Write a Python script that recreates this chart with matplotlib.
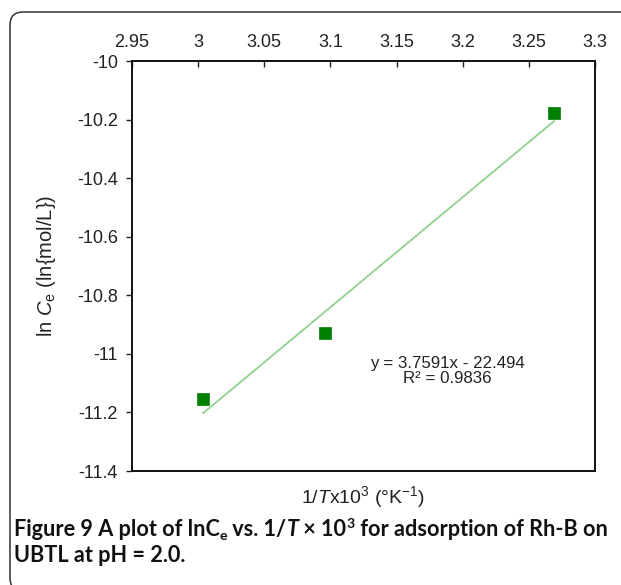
import matplotlib
matplotlib.use("Agg")
import matplotlib.pyplot as plt
from matplotlib.patches import FancyBboxPatch
import numpy as np

# ---- data ----
inv_T = [3.0037, 3.096, 3.269]          # 1/T x 10^3
ln_Ce = [-11.154, -10.93, -10.178]      # ln Ce
slope = 3.7591
intercept = -22.494
r2 = 0.9836
xticks = [2.95, 3.0, 3.05, 3.1, 3.15, 3.2, 3.25, 3.3]
xtick_labels = ["2.95", "3", "3.05", "3.1", "3.15", "3.2", "3.25", "3.3"]
yticks = [-11.4, -11.2, -11.0, -10.8, -10.6, -10.4, -10.2, -10.0]
ytick_labels = ["-11.4", "-11.2", "-11", "-10.8", "-10.6", "-10.4", "-10.2", "-10"]

plt.rcParams['font.family'] = ['Liberation Sans', 'DejaVu Sans']
plt.rcParams['mathtext.fontset'] = 'custom'
plt.rcParams['mathtext.rm'] = 'Liberation Sans'
plt.rcParams['mathtext.it'] = 'Liberation Sans:italic'
plt.rcParams['mathtext.bf'] = 'Liberation Sans:bold'

W, H = 621, 585
fig = plt.figure(figsize=(W / 100, H / 100), dpi=100)

# frame box (rounded top-left, runs off right/bottom)
box = FancyBboxPatch((0.10, -0.06), 7.0, 5.73 + 0.06, boxstyle="round,pad=0,rounding_size=0.13",
                     transform=fig.dpi_scale_trans, fill=False, edgecolor="#333333",
                     linewidth=1.1, clip_on=False)
fig.patches.append(box)

L, R, T, B = 132, 595, 61, 471
ax = fig.add_axes([L / W, 1 - B / H, (R - L) / W, (B - T) / H])

ax.set_xlim(2.95, 3.3)
ax.set_ylim(-11.4, -10.0)

xs = np.array([inv_T[0], inv_T[-1]])
ax.plot(xs, slope * xs + intercept, color="#8fd18f", linewidth=1.3, zorder=2)
ax.plot(inv_T, ln_Ce, linestyle="none", marker="s", markersize=8.8,
        markerfacecolor="#008000", markeredgecolor="#1a8a1a", markeredgewidth=0.6, zorder=3)

ax.xaxis.tick_top()
ax.set_xticks(xticks)
ax.set_xticklabels(xtick_labels)
ax.set_yticks(yticks)
ax.set_yticklabels(ytick_labels)
ax.tick_params(axis='x', direction='in', length=4.5, width=1.0, pad=7, labelsize=13,
               colors="#222222", top=True, bottom=False)
ax.tick_params(axis='y', direction='out', length=4.5, width=1.0, pad=5.5, labelsize=13,
               colors="#222222", left=True, right=False)
for s in ax.spines.values():
    s.set_linewidth(1.4)
    s.set_color("#111111")

ax.set_ylabel(r"ln $C_\mathrm{e}$ (ln{mol/L})", fontsize=14.5, color="#222222")
ax.yaxis.set_label_coords((47 - L) / (R - L), 0.5)
ax.set_xlabel(r"1/$T$x10$^{3}$ (°K$^{-1}$)", fontsize=14, color="#222222")
ax.xaxis.set_label_position('bottom')
ax.xaxis.set_label_coords(0.5, (B - 497) / (B - T))
ax.xaxis.label.set_va('center')
ax.yaxis.label.set_va('center')

eq = f"y = {slope}x - {abs(intercept)}\nR² = {r2}"
ax.text((447 - L) / (R - L), (B - 371) / (B - T), eq, transform=ax.transAxes,
        ha='center', va='center', fontsize=12.2, color="#222222", linespacing=1.05,
        multialignment='center')

# ---- caption built from pieces ----
renderer = fig.canvas.get_renderer()
cap_font = ['Lato', 'DejaVu Sans']
cap_size = 15.6

def draw_pieces(pieces, x0, yc):
    x = x0
    for txt, kw in pieces:
        size = cap_size * kw.get('scale', 1.0)
        dy = kw.get('dy', 0)
        t = fig.text(x / W, 1 - (yc - dy) / H, txt, fontsize=size, family=cap_font,
                     weight=kw.get('weight', 'normal'), style=kw.get('style', 'normal'),
                     ha='left', va='baseline', color="#111111")
        bb = t.get_window_extent(renderer)
        x += bb.width

line1 = [("Figure 9", {'weight': 'bold'}),
         (" A plot of lnC", {'weight': 'bold'}),
         ("e", {'weight': 'bold', 'scale': 0.65, 'dy': -3.5}),
         (" vs. 1/", {'weight': 'bold'}),
         ("T", {'weight': 'bold', 'style': 'italic'}),
         (" × 10", {'weight': 'bold'}),
         ("3", {'weight': 'bold', 'scale': 0.65, 'dy': 7.5}),
         (" for adsorption of Rh-B on", {'weight': 'bold'})]
line2 = [("UBTL at pH = 2.0.", {'weight': 'bold'})]

draw_pieces(line1, 14, 536)
draw_pieces(line2, 14, 562)

fig.savefig("out.png", dpi=100)
